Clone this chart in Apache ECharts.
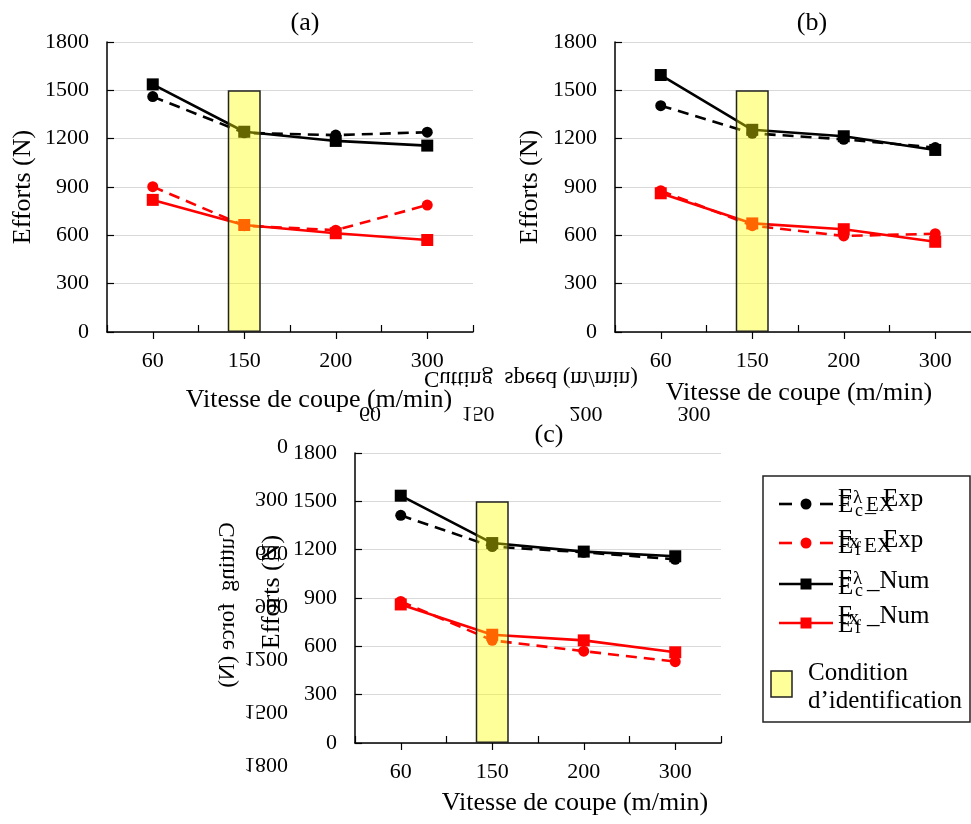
<!DOCTYPE html>
<html><head><meta charset="utf-8">
<script src="https://cdn.jsdelivr.net/npm/echarts@6/dist/echarts.min.js"></script>
<style>html,body{margin:0;padding:0;background:#fff}#c{width:971px;height:824px}</style>
</head><body><div id="c"></div>
<script>
// ---------- data ----------
const categories = ['60', '150', '200', '300'];
const yMin = 0, yMax = 1800, yStep = 300;
// (a)
const a_FcExp = [1461, 1236, 1222, 1240];
const a_FtExp = [902, 660, 632, 788];
const a_FcNum = [1537, 1243, 1186, 1157];
const a_FtNum = [820, 664, 613, 571];
// (b)
const b_FcExp = [1405, 1233, 1196, 1145];
const b_FtExp = [877, 660, 596, 610];
const b_FcNum = [1595, 1255, 1215, 1130];
const b_FtNum = [861, 674, 638, 560];
// (c)
const c_FcExp = [1413, 1219, 1184, 1140];
const c_FtExp = [879, 637, 570, 505];
const c_FcNum = [1535, 1241, 1188, 1159];
const c_FtNum = [860, 672, 637, 563];
// identification condition (yellow box)
const condition = [null, 1500, null, null];
// ghost (mirrored) labels present in the picture
const ghostXLabels = ['60', '150', '200', '300'];
const ghostYLabels = ['0', '300', '600', '900', '1200', '1500', '1800'];
const panelTitles = ['(a)', '(b)', '(c)'];
const xName = 'Vitesse de coupe (m/min)';
const yName = 'Efforts (N)';

// ---------- styling ----------
const FONT = '"Liberation Serif", "Times New Roman", serif';
const BLACK = '#000000', RED = '#ff0000';
const panels = [
  {grid: {left: 107, top: 42, width: 366, height: 290}, data: [a_FcExp, a_FtExp, a_FcNum, a_FtNum]},
  {grid: {left: 615, top: 42, width: 366, height: 290}, data: [b_FcExp, b_FtExp, b_FcNum, b_FtNum]},
  {grid: {left: 355, top: 453, width: 366, height: 290}, data: [c_FcExp, c_FtExp, c_FcNum, c_FtNum]}
];
const seriesDefs = [
  {name: 'Fc_Exp', color: BLACK, dashed: true, symbol: 'circle'},
  {name: 'Ff_Exp', color: RED, dashed: true, symbol: 'circle'},
  {name: 'Fc_Num', color: BLACK, dashed: false, symbol: 'rect'},
  {name: 'Ff_Num', color: RED, dashed: false, symbol: 'rect'}
];

const grid = [], xAxis = [], yAxis = [], series = [];
panels.forEach((p, gi) => {
  grid.push(Object.assign({outerBoundsMode: 'none', containLabel: false}, p.grid));
  xAxis.push({
    type: 'category', gridIndex: gi, data: categories, position: 'bottom',
    axisLine: {show: true, lineStyle: {color: BLACK, width: 1.5}},
    axisTick: {show: true, inside: true, length: 7, lineStyle: {color: BLACK, width: 1.2}},
    axisLabel: {fontFamily: FONT, fontSize: 22, color: BLACK, margin: 18},
    splitLine: {show: false}
  });
  xAxis.push({
    type: 'category', gridIndex: gi, data: categories, position: 'bottom',
    axisLine: {show: false},
    axisTick: {show: true, alignWithLabel: true, inside: false, length: 7, lineStyle: {color: BLACK, width: 1.2}},
    axisLabel: {show: false}, splitLine: {show: false}
  });
  yAxis.push({
    type: 'value', gridIndex: gi, min: yMin, max: yMax, interval: yStep,
    axisLine: {show: true, lineStyle: {color: BLACK, width: 1.5}},
    axisTick: {show: true, inside: true, length: 7, lineStyle: {color: BLACK, width: 1.2}},
    axisLabel: {fontFamily: FONT, fontSize: 22, color: BLACK, margin: 18, formatter: v => String(v)},
    splitLine: {show: true, lineStyle: {color: '#d9d9d9', width: 1.2}}
  });
  seriesDefs.forEach((s, si) => {
    series.push({
      type: 'line', name: s.name, xAxisIndex: gi * 2, yAxisIndex: gi,
      data: p.data[si], symbol: s.symbol, symbolSize: s.symbol === 'rect' ? 12 : 11,
      showSymbol: true,
      lineStyle: {color: s.color, width: 2.6, type: s.dashed ? [11, 7] : 'solid'},
      itemStyle: {color: s.color}, z: 3, animation: false, silent: true
    });
  });
  series.push({
    type: 'bar', name: 'Condition', xAxisIndex: gi * 2, yAxisIndex: gi,
    data: condition, barWidth: 33,
    itemStyle: {color: 'rgba(255,255,0,0.4)', borderColor: '#222', borderWidth: 1.5},
    z: 6, animation: false, silent: true
  });
});

// ---------- text / legend graphics ----------
function txt(x, y, text, size, opts) {
  return Object.assign({
    type: 'text', x: x, y: y, silent: true,
    style: Object.assign({text: text, font: size + 'px ' + FONT, fill: BLACK, align: 'center', verticalAlign: 'middle'}, (opts && opts.style) || {})
  }, (opts && opts.el) || {});
}
const graphic = [];
// titles
graphic.push(txt(305, 23, panelTitles[0], 26));
graphic.push(txt(812, 23, panelTitles[1], 26));
graphic.push(txt(549, 435, panelTitles[2], 26));
// x names
graphic.push(txt(319, 400, xName, 26));
graphic.push(txt(799, 393, xName, 26));
graphic.push(txt(575, 803, xName, 26));
// y names
graphic.push(txt(23, 187, yName, 26, {el: {rotation: Math.PI / 2}}));
graphic.push(txt(530, 187, yName, 26, {el: {rotation: Math.PI / 2}}));
graphic.push(txt(272, 592, yName, 26, {el: {rotation: Math.PI / 2}}));

// ghost mirrored texts
graphic.push(txt(531, 378, 'Cutting  speed (m/min)', 23, {el: {scaleY: -1}}));
ghostXLabels.forEach((t, i) => graphic.push(txt(370 + i * 108, 413, t, 22, {el: {scaleY: -1}})));
ghostYLabels.forEach((t, i) => graphic.push(txt(288, 445 + i * 53.2, t, 22, {el: {scaleY: -1}, style: {align: 'right'}})));
graphic.push(txt(228, 605, 'Cutting  force (N)', 23, {el: {rotation: -Math.PI / 2, scaleY: -1}}));

// legend box
graphic.push({type: 'rect', silent: true, shape: {x: 763, y: 476, width: 207, height: 246},
  style: {fill: '#fff', stroke: '#222', lineWidth: 1.5}, z: 1});
const rowsY = [504, 543, 584, 623];
seriesDefs.forEach((s, i) => {
  const y = rowsY[i];
  if (s.dashed) {
    graphic.push({type: 'line', silent: true, shape: {x1: 779, y1: y, x2: 792, y2: y}, style: {stroke: s.color, lineWidth: 2.6}, z: 2});
    graphic.push({type: 'line', silent: true, shape: {x1: 820, y1: y, x2: 833, y2: y}, style: {stroke: s.color, lineWidth: 2.6}, z: 2});
    graphic.push({type: 'circle', silent: true, shape: {cx: 806, cy: y, r: 5.5}, style: {fill: s.color}, z: 2});
  } else {
    graphic.push({type: 'line', silent: true, shape: {x1: 779, y1: y, x2: 833, y2: y}, style: {stroke: s.color, lineWidth: 2.6}, z: 2});
    graphic.push({type: 'rect', silent: true, shape: {x: 800.5, y: y - 5.5, width: 11, height: 11}, style: {fill: s.color}, z: 2});
  }
});
function L(x, y, t, size) { const e = txt(x, y, t, size, {style: {align: 'left'}}); e.z = 3; return e; }
// row 1
graphic.push(L(838, 499, 'F', 25), L(853, 498, 'λ', 19), L(883, 499, 'Exp', 25));
graphic.push(L(838, 505, 'E', 25), L(855, 511, 'c', 18), L(865, 505, '_', 22), L(866, 505, 'EX', 21));
// row 2
graphic.push(L(838, 540, 'F', 25), L(849, 543, 'x', 20), L(883, 540, 'Exp', 25));
graphic.push(L(838, 546, 'E', 25), L(855, 550, 'f', 18), L(864, 546, 'EX', 21));
// row 3
graphic.push(L(838, 580, 'F', 25), L(853, 579, 'λ', 19), L(867, 581, '_Num', 25));
graphic.push(L(838, 587, 'E', 25), L(855, 591, 'c', 18));
// row 4
graphic.push(L(838, 616, 'F', 25), L(849, 619, 'x', 20), L(867, 616, '_Num', 25));
graphic.push(L(838, 625, 'E', 25), L(855, 628, 'f', 18));
// condition entry
graphic.push({type: 'rect', silent: true, shape: {x: 771, y: 671, width: 21, height: 26},
  style: {fill: '#ffff99', stroke: '#222', lineWidth: 1.5}, z: 2});
graphic.push(L(808, 673, 'Condition', 25), L(808, 701, 'd\u2019identification', 25));

const chart = echarts.init(document.getElementById('c'), null, {renderer: 'canvas', width: 971, height: 824});
chart.setOption({
  animation: false,
  backgroundColor: '#ffffff',
  grid: grid, xAxis: xAxis, yAxis: yAxis, series: series,
  graphic: {elements: graphic}
});
</script>
</body></html>
